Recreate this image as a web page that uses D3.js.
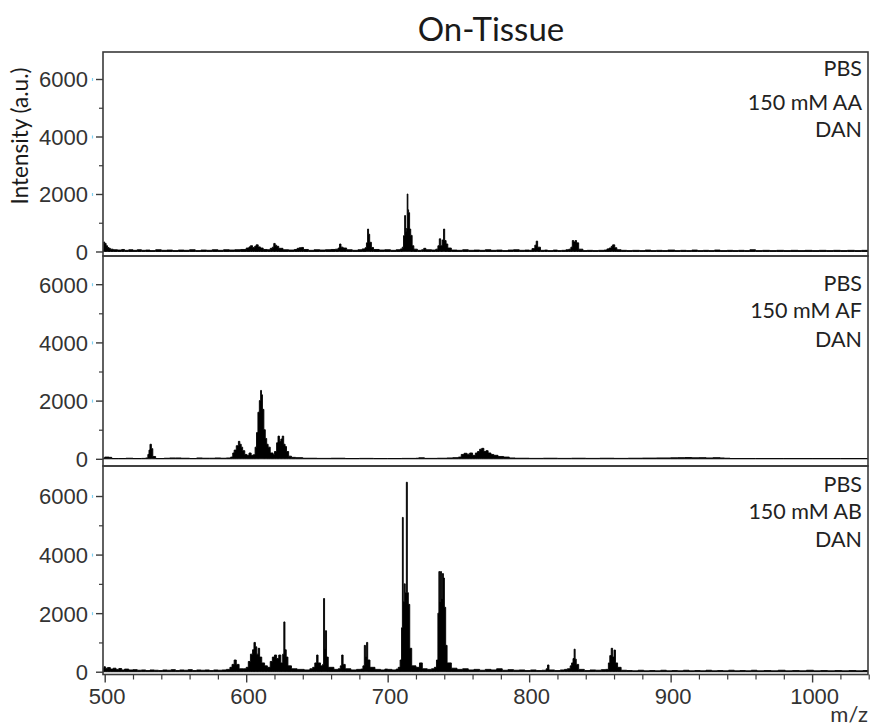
<!DOCTYPE html>
<html lang="en">
<head>
<meta charset="utf-8">
<script src="https://d3js.org/d3.v7.min.js"></script>
<style>
  body { margin: 0; background: #fff; }
  svg { font-family: 'Lato', 'Open Sans', sans-serif; }
  .frame { fill: none; stroke: #3a3a3a; stroke-width: 1.6px; }
  .tick-label { fill: #333; font-size: 22px; }
  .note { fill: #222; font-size: 21.5px; }
  .spec { fill: #000; stroke: #000; stroke-width: 0.9px; stroke-linejoin: miter; }
</style>
</head>
<body>
<svg width="873" height="727"></svg>
<script>
// ---- data ----
var mzDomain = [498.8, 1039.5];
var xTicks = [500, 600, 700, 800, 900, 1000];
var yTicks = [0, 2000, 4000, 6000];
var yMinorTicks = [1000, 3000, 5000];

var labelsAA = ["PBS", "150 mM AA", "DAN"];
var labelsAF = ["PBS", "150 mM AF", "DAN"];
var labelsAB = ["PBS", "150 mM AB", "DAN"];

// [m/z, intensity]
var specAA = [
  [498.8,60],[499.3,330],[500,280],[501,200],[502,140],[503,110],[504,80],[506,60],[509,50],[512,70],[514,40],[517,60],[520,40],
  [523,60],[526,40],[529,50],[532,30],[536,60],[540,40],[544,50],[548,30],[552,50],[556,40],[560,60],[564,30],[568,50],[572,40],
  [576,60],[580,40],[584,60],[588,50],[592,60],[596,70],[600,120],[602,160],[603,200],[604.5,140],[606,180],[607,230],[608.5,160],
  [610,120],[612,70],[615,60],[617,110],[618.5,150],[619.5,280],[620.5,220],[621.5,180],[623,110],[626,60],[630,50],[634,70],
  [636,110],[637.5,130],[639,140],[640.5,70],[644,40],[648,60],[652,50],[656,60],[660,70],[663,80],[665,120],[666,260],
  [667,150],[668.5,120],[671,60],[675,40],[679,60],[682,90],[684,130],[685,300],[685.8,780],[686.5,600],[687.3,320],[688.5,140],
  [690,70],[694,50],[698,60],[702,40],[706,60],[709,90],[710.3,150],[711.2,550],[712,1250],[712.6,700],[713.2,800],[713.8,2000],
  [714.3,1450],[714.8,1350],[715.5,780],[716.3,560],[717.3,200],[718.5,80],[721,40],[724,60],[725.5,110],[727,60],[731,50],
  [734,80],[735.5,200],[736.5,440],[737.5,200],[738.5,400],[739.5,780],[740.3,380],[741.3,260],[742.5,120],[745,50],[749,40],
  [753,60],[757,40],[761,50],[765,40],[769,60],[773,40],[777,50],[781,30],[785,50],[789,60],[793,40],[797,50],[800,40],
  [802,100],[804,220],[805,360],[806,150],[808,40],[811,50],[813,30],[817,50],[820,30],[823,40],[826,60],[828,80],[829.5,150],
  [830.5,380],[831.5,330],[832.5,380],[833.5,300],[835,80],[838,30],[841,40],[845,30],[849,40],[853,50],[855,90],[856.5,120],
  [858,180],[859,230],[860.5,130],[862,60],[865,40],[869,30],[873,40],[878,30],[882,50],[886,30],[890,40],[894,30],[898,50],
  [903,30],[907,40],[911,30],[915,50],[919,30],[923,40],[927,30],[931,50],[935,30],[940,40],[944,30],[948,40],[952,30],
  [956,60],[960,30],[965,40],[970,30],[975,40],[980,30],[985,40],[990,30],[995,40],[1000,30],[1005,40],[1010,30],[1015,40],
  [1020,30],[1025,40],[1030,30],[1035,40],[1039.5,30]
];

var specAF = [
  [498.8,20],[500,60],[503,50],[505,10],[510,10],[515,20],[520,10],[526,15],[529,30],[530.5,150],[531.3,300],[532,500],
  [533,350],[534,80],[536,10],[542,20],[546,30],[550,30],[554,20],[560,10],[565,30],[569,20],[574,20],[578,30],[582,20],
  [586,30],[589,60],[590.5,200],[591.5,300],[593,450],[594.5,600],[595.5,500],[596.5,400],[597.5,280],[599,150],[600.5,120],
  [602,200],[603.5,120],[605,140],[606.3,400],[607.3,900],[608.3,1600],[609.3,2000],[610.2,2350],[610.8,2200],[611.5,1700],
  [612.5,1000],[613.5,700],[614.5,500],[615.5,400],[617,200],[619,150],[620,250],[621.5,550],[622.5,780],[623.5,600],
  [624.5,680],[625.5,780],[626.5,500],[627.5,420],[628.5,250],[630,90],[632,50],[635,40],[640,20],[650,15],[660,20],
  [670,10],[680,15],[690,10],[700,10],[710,15],[720,20],[722,35],[726,15],[735,20],[742,30],[746,40],[750,60],
  [752,150],[754,190],[756,160],[758,200],[760,120],[762,200],[763.5,250],[765,330],[766.5,360],[768,250],[769.5,280],
  [771,200],[773,150],[775,120],[778,80],[782,60],[786,30],[790,20],[800,15],[810,20],[820,15],[830,20],[840,15],
  [850,20],[860,15],[870,20],[880,25],[890,30],[900,35],[905,40],[910,45],[915,35],[920,40],[925,30],[930,40],[935,30],
  [938,20],[942,10],[960,10],[980,10],[1000,10],[1020,10],[1039.5,10]
];

var specAB = [
  [498.8,100],[499.5,170],[500.5,120],[502,140],[504,90],[506,120],[508,80],[510,110],[512,60],[514,90],[517,60],[520,70],
  [523,50],[526,60],[529,40],[532,60],[535,50],[538,40],[541,60],[544,50],[547,70],[550,40],[553,60],[556,50],[559,70],
  [562,40],[565,60],[568,50],[571,60],[574,40],[577,60],[580,50],[583,60],[586,80],[588.5,150],[590,250],[591.5,400],
  [593,250],[595,100],[598,100],[600,150],[601.5,350],[603,600],[604.5,750],[605.5,1000],[606.5,850],[607.5,600],[608.5,800],
  [609.5,500],[611,300],[613,200],[615,150],[617,350],[618.5,500],[620,570],[621.5,450],[623,570],[624.5,300],[625.8,600],
  [626.6,1700],[627.4,750],[628.3,500],[629.5,200],[632,100],[636,80],[641,60],[645,100],[647,150],[648.5,300],[649.8,570],
  [650.8,300],[652.5,200],[654,250],[654.7,2500],[655.4,800],[656,1400],[656.8,500],[658,150],[662,80],[665,100],[666.5,200],
  [667.5,570],[668.5,250],[670,100],[674,60],[678,80],[681,90],[682.5,200],[683.5,900],[684.3,500],[685.1,1000],[685.9,400],
  [687.5,150],[691,80],[695,60],[698,90],[700,80],[703,60],[706,90],[707.5,150],[708.8,400],[709.8,1500],[710.4,5270],
  [711,2400],[711.7,3000],[712.4,2700],[713.2,6470],[713.9,2700],[714.6,2300],[715.6,800],[717,200],[720,150],[722.5,300],
  [724.5,100],[728,80],[731,100],[733,150],[734.5,400],[735.5,2000],[736.2,3420],[736.8,2400],[737.4,3420],[738,2500],
  [738.7,3350],[739.4,3200],[740.1,2200],[741,900],[742,300],[745,120],[749,80],[753,100],[757,60],[761,80],[765,50],
  [769,80],[773,60],[777,100],[781,50],[785,70],[789,50],[793,60],[797,40],[801,60],[805,40],[809,50],[812,100],[813,230],
  [814,60],[818,40],[822,60],[825,80],[827,100],[829,200],[830,300],[831,450],[831.8,770],[832.5,430],[833.3,250],[835,80],
  [839,40],[843,60],[847,50],[851,70],[854,80],[856,300],[857,550],[858,800],[859,500],[860,740],[861,300],[862.5,150],
  [865,50],[869,40],[873,30],[877,50],[881,30],[885,40],[889,30],[893,50],[897,30],[901,40],[905,30],[909,50],[913,30],
  [917,40],[921,30],[925,50],[929,30],[933,40],[937,30],[941,50],[945,30],[949,40],[953,30],[957,50],[961,30],[966,40],
  [971,30],[976,50],[981,30],[986,40],[991,30],[996,50],[1001,30],[1006,40],[1011,30],[1016,40],[1021,30],[1026,40],
  [1031,30],[1036,40],[1039.5,30]
];

// ---- layout ----
var svg = d3.select("svg");
var left = 103, right = 868;

var panels = [
  { spec: specAA, labels: labelsAA, top: 52,  bottom: 256,   yDomain: [-157, 6939], noteY: [76, 110, 137] },
  { spec: specAF, labels: labelsAF, top: 256, bottom: 466,   yDomain: [-247, 6969], noteY: [291, 318, 347] },
  { spec: specAB, labels: labelsAB, top: 466, bottom: 674.5, yDomain: [-95, 7025],  noteY: [492, 519, 547] }
];

var x = d3.scaleLinear().domain(mzDomain).range([left, right]);

panels.forEach(function(p, i) {
  var y = d3.scaleLinear().domain(p.yDomain).range([p.bottom, p.top]);
  var g = svg.append("g").attr("class", "panel");

  var clipId = "clip" + i;
  g.append("clipPath").attr("id", clipId)
    .append("rect")
      .attr("x", left).attr("y", p.top)
      .attr("width", right - left).attr("height", p.bottom - p.top);

  var area = d3.area()
      .curve(d3.curveStepAfter)
      .x(function(d) { return x(d[0]); })
      .y0(y(0))
      .y1(function(d) { return y(d[1]); });

  g.append("path")
      .datum(p.spec)
      .attr("class", "spec")
      .attr("clip-path", "url(#" + clipId + ")")
      .attr("d", area);

  // y axis (major ticks with labels, minor without)
  var yAxis = d3.axisLeft(y)
      .tickValues(yTicks)
      .tickSize(7)
      .tickPadding(8)
      .tickFormat(d3.format("d"));
  var ya = g.append("g")
      .attr("transform", "translate(" + left + ",0)")
      .call(yAxis);
  ya.select(".domain").remove();
  ya.selectAll(".tick line").attr("stroke", "#3a3a3a").attr("stroke-width", 1.4);
  ya.selectAll(".tick text")
      .attr("class", "tick-label")
      .attr("dy", "0.36em")
      .style("font-family", null).style("font-size", null);

  ya.selectAll(".tick").filter(function(d) { return d > 0; })
    .append("line")
      .attr("x1", -10.5).attr("x2", -10.5)
      .attr("y1", -1.5).attr("y2", 1.5)
      .attr("stroke", "#7fd0f2").attr("stroke-width", 1.2);

  var yMinor = d3.axisLeft(y).tickValues(yMinorTicks).tickSize(4).tickFormat("");
  var ym = g.append("g")
      .attr("transform", "translate(" + left + ",0)")
      .call(yMinor);
  ym.select(".domain").remove();
  ym.selectAll(".tick line").attr("stroke", "#3a3a3a").attr("stroke-width", 1.2);

  // frame
  g.append("rect")
      .attr("class", "frame")
      .attr("x", left).attr("y", p.top)
      .attr("width", right - left).attr("height", p.bottom - p.top);

  // sample notes
  g.selectAll("text.note")
    .data(p.labels)
    .enter().append("text")
      .attr("class", "note")
      .attr("x", 862)
      .attr("y", function(d, j) { return p.noteY[j]; })
      .attr("text-anchor", "end")
      .text(function(d) { return d; });

  // x axis on the bottom panel
  if (i === panels.length - 1) {
    var xMajor = d3.axisBottom(x).tickValues(xTicks).tickSize(8).tickPadding(6).tickFormat(d3.format("d"));
    var xa = g.append("g")
        .attr("transform", "translate(0," + p.bottom + ")")
        .call(xMajor);
    xa.select(".domain").remove();
    xa.selectAll(".tick line").attr("stroke", "#3a3a3a").attr("stroke-width", 1.4);
    xa.selectAll(".tick text")
        .attr("class", "tick-label")
        .attr("dx", "2")
        .style("font-family", null).style("font-size", null);

    var minorVals = d3.range(520, 1041, 20).filter(function(v) { return v % 100 !== 0; });
    var xMinor = d3.axisBottom(x).tickValues(minorVals).tickSize(5).tickFormat("");
    var xm = g.append("g")
        .attr("transform", "translate(0," + p.bottom + ")")
        .call(xMinor);
    xm.select(".domain").remove();
    xm.selectAll(".tick line").attr("stroke", "#3a3a3a").attr("stroke-width", 1.2);
  }
});

// titles
svg.append("text")
    .attr("x", 491).attr("y", 41)
    .attr("text-anchor", "middle")
    .style("font-size", "33px").style("fill", "#1a1a1a")
    .text("On-Tissue");

svg.append("text")
    .attr("transform", "translate(28,136) rotate(-90)")
    .attr("text-anchor", "middle")
    .style("font-size", "22.5px").style("fill", "#1a1a1a")
    .text("Intensity (a.u.)");

svg.append("text")
    .attr("x", 868).attr("y", 722)
    .attr("text-anchor", "end")
    .style("font-size", "22px").style("fill", "#333")
    .text("m/z");
</script>
</body>
</html>
